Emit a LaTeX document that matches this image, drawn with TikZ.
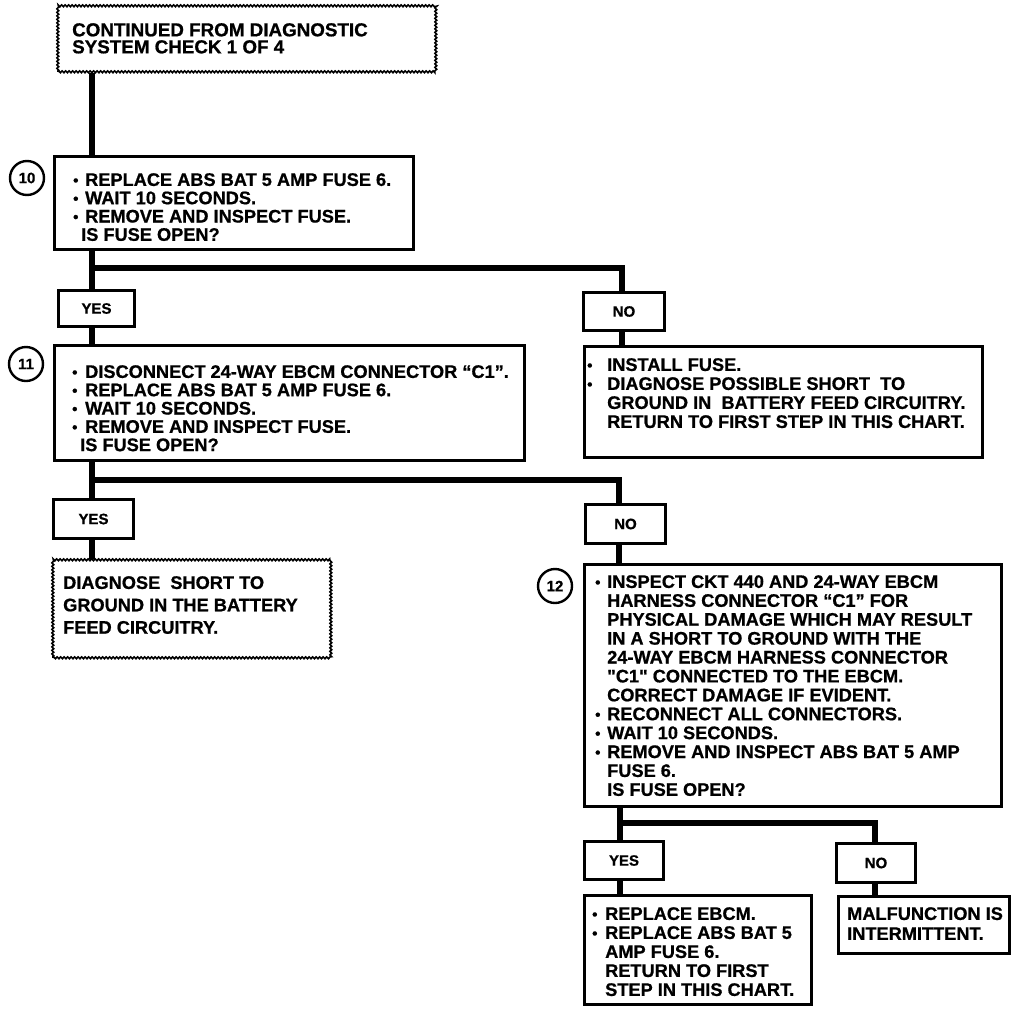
\documentclass[tikz,border=0pt]{standalone}
\usepackage{fontspec}
\setmainfont{Liberation Sans}[BoldFeatures={FakeBold=0.8}]
\newfontfamily\qfont{Liberation Sans}[BoldFeatures={FakeBold=0.8}]
\usetikzlibrary{decorations.pathmorphing}
\newcommand\bul[1][12pt]{\makebox[#1][l]{\raisebox{0.5pt}{\fontsize{15}{15}\selectfont\textbullet}}}
\newcommand\sq{{\qfont\bfseries"}}
\begin{document}
\begin{tikzpicture}[x=1pt,y=-1pt,
  box/.style={draw, line width=3pt, inner sep=0pt, anchor=north west},
  wavy/.style={draw, line width=1.6pt, inner sep=0pt, anchor=north west, decorate,
    decoration={zigzag, amplitude=0.9pt, segment length=3.5pt}},
  lab/.style={box, font=\fontsize{15}{15}\selectfont\bfseries},
  txt/.style={inner sep=0pt, anchor=north west, align=left},
  bs/.style={font=\fontsize{18.2}{#1}\selectfont\bfseries},
  num/.style={draw, circle, line width=2.4pt, minimum size=34pt, inner sep=0pt,
    font=\fontsize{15}{15}\selectfont\bfseries},
  conn/.style={line width=6pt}]
\useasboundingbox (0,0) rectangle (1024,1012);
\fill[white] (0,0) rectangle (1024,1012);

% boxes
\node[wavy, minimum width=378pt, minimum height=66pt] (top) at (57,5) {};
\node[box, minimum width=359pt, minimum height=93pt] (b10) at (53,155) {};
\node[lab, minimum width=76pt, minimum height=36pt] (yes1) at (57,289) {YES};
\node[lab, minimum width=81pt, minimum height=38pt] (no1) at (582,291) {NO};
\node[box, minimum width=470pt, minimum height=115pt] (b11) at (53,344) {};
\node[box, minimum width=398pt, minimum height=111pt] (bno1) at (583,345) {};
\node[lab, minimum width=80pt, minimum height=39pt] (yes2) at (52,498) {YES};
\node[lab, minimum width=80pt, minimum height=39pt] (no2) at (584,503) {NO};
\node[wavy, minimum width=278pt, minimum height=98pt] (diag) at (52,559) {};
\node[box, minimum width=417pt, minimum height=242pt] (b12) at (583,563) {};
\node[lab, minimum width=79pt, minimum height=38pt] (yes3) at (583,840) {YES};
\node[lab, minimum width=79pt, minimum height=39pt] (no3) at (835,842) {NO};
\node[box, minimum width=227pt, minimum height=109pt] (byes3) at (583,894) {};
\node[box, minimum width=171pt, minimum height=57pt] (bno3) at (837,895) {};

% step numbers
\node[num] (c10) at (27,178) {10};
\node[num] (c11) at (26,364) {11};
\node[num] (c12) at (555,586) {12};

% texts
\node[txt, font=\fontsize{18.8}{17}\selectfont\bfseries] (ttop) at (72,23)
  {CONTINUED FROM DIAGNOSTIC\\SYSTEM CHECK 1 OF 4};
\node[txt, bs=18.3] (t10) at (73,173)
  {\bul REPLACE ABS BAT 5 AMP FUSE 6.\\
   \bul WAIT 10 SECONDS.\\
   \bul REMOVE AND INSPECT FUSE.\\
   \hspace*{8pt}IS FUSE OPEN?};
\node[txt, bs=18.3] (t11) at (72,365)
  {\bul[13pt]DISCONNECT 24-WAY EBCM CONNECTOR “C1”.\\
   \bul[13pt]REPLACE ABS BAT 5 AMP FUSE 6.\\
   \bul[13pt]WAIT 10 SECONDS.\\
   \bul[13pt]REMOVE AND INSPECT FUSE.\\
   \hspace*{8pt}IS FUSE OPEN?};
\node[txt, bs=19] (tno1) at (587,358)
  {\bul[20pt]INSTALL FUSE.\\
   \bul[20pt]DIAGNOSE POSSIBLE SHORT\ \ TO\\
   \hspace*{20pt}GROUND IN\ \ BATTERY FEED CIRCUITRY.\\
   \hspace*{20pt}RETURN TO FIRST STEP IN THIS CHART.};
\node[txt, bs=22.4] (tdiag) at (63,576)
  {DIAGNOSE\ \ SHORT TO\\GROUND IN THE BATTERY\\FEED CIRCUITRY.};
\node[txt, bs=18.9] (t12) at (595,575)
  {\bul INSPECT CKT 440 AND 24-WAY EBCM\\
   \hspace*{12pt}HARNESS CONNECTOR “C1” FOR\\
   \hspace*{12pt}PHYSICAL DAMAGE WHICH MAY RESULT\\
   \hspace*{12pt}IN A SHORT TO GROUND WITH THE\\
   \hspace*{12pt}24-WAY EBCM HARNESS CONNECTOR\\
   \hspace*{12pt}\sq C1\sq\ CONNECTED TO THE EBCM.\\
   \hspace*{12pt}CORRECT DAMAGE IF EVIDENT.\\
   \bul RECONNECT ALL CONNECTORS.\\
   \bul WAIT 10 SECONDS.\\
   \bul REMOVE AND INSPECT ABS BAT 5 AMP\\
   \hspace*{12pt}FUSE 6.\\
   \hspace*{12pt}IS FUSE OPEN?};
\node[txt, bs=19] (tyes3) at (592,907)
  {\bul[13pt]REPLACE EBCM.\\
   \bul[13pt]REPLACE ABS BAT 5\\
   \hspace*{13pt}AMP FUSE 6.\\
   \hspace*{13pt}RETURN TO FIRST\\
   \hspace*{13pt}STEP IN THIS CHART.};
\node[txt, bs=20] (tno3) at (847,907)
  {MALFUNCTION IS\\INTERMITTENT.};

% connector guide coordinates
\coordinate (L) at (92,0);
\coordinate (R1) at (622,0);
\coordinate (R2) at (619,0);
\coordinate (R3) at (620,0);
\coordinate (R4) at (875,0);
\coordinate (j1) at (92,268);
\coordinate (j2) at (92,480);
\coordinate (j3) at (620,823);

% connectors
\draw[conn] (top.south -| L) -- (b10.north -| L);
\draw[conn] (b10.south -| L) -- (yes1.north -| L);
\draw[conn] (j1) -| (no1.north -| R1);
\draw[conn] (yes1.south -| L) -- (b11.north -| L);
\draw[conn] (no1.south -| R1) -- (bno1.north -| R1);
\draw[conn] (b11.south -| L) -- (yes2.north -| L);
\draw[conn] (j2) -| (no2.north -| R2);
\draw[conn] (yes2.south -| L) -- (diag.north -| L);
\draw[conn] (no2.south -| R2) -- (b12.north -| R2);
\draw[conn] (b12.south -| R3) -- (yes3.north -| R3);
\draw[conn] (j3) -| (no3.north -| R4);
\draw[conn] (yes3.south -| R3) -- (byes3.north -| R3);
\draw[conn] (no3.south -| R4) -- (bno3.north -| R4);
\end{tikzpicture}
\end{document}
